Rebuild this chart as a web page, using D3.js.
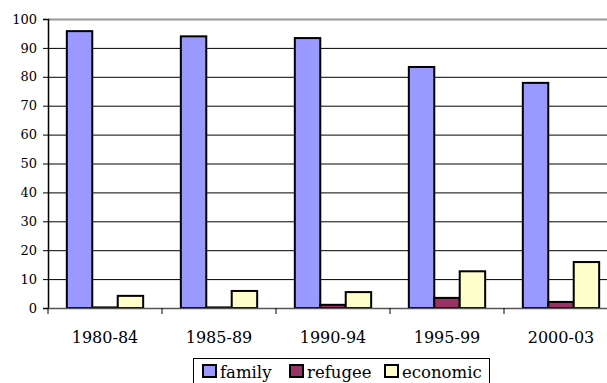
<!DOCTYPE html>
<html>
<head>
  <meta charset="utf-8">
  <script src="https://d3js.org/d3.v7.min.js"></script>
  <style>
    body { margin: 0; background: #fff; }
    svg { display: block; }
    svg text { font-family: "DejaVu Serif", serif; fill: #000; }
  </style>
</head>
<body>
  <div id="chart"></div>
  <script>
    // data
    var periods = ["1980-84", "1985-89", "1990-94", "1995-99", "2000-03"];
    var family = [95.8, 94, 93.4, 83.4, 77.9];
    var refugee = [0.2, 0.2, 1.1, 3.5, 2.1];
    var economic = [4.2, 5.9, 5.5, 12.7, 15.9];
    var seriesNames = ["family", "refugee", "economic"];
    var colors = ["#9999ff", "#993366", "#ffffcc"];
    var yTicks = [0, 10, 20, 30, 40, 50, 60, 70, 80, 90, 100];

    var width = 607, height = 383;
    var plotL = 48, plotR = 618, plotT = 19, plotB = 308;

    var svg = d3.select("#chart").append("svg")
      .attr("width", width)
      .attr("height", height);

    var x = d3.scaleBand().domain(periods).range([plotL, plotR]).paddingInner(0).paddingOuter(0);
    var inner = d3.scaleBand().domain(seriesNames).range([0, x.bandwidth()]).paddingInner(0).paddingOuter(0.74);
    var y = d3.scaleLinear().domain([0, 100]).range([plotB, plotT]);

    // gridlines
    svg.append("g").selectAll("line")
      .data(yTicks.filter(d => d > 0 && d < 100))
      .enter().append("line")
      .attr("x1", plotL).attr("x2", width)
      .attr("y1", d => y(d) + 0.5).attr("y2", d => y(d) + 0.5)
      .attr("stroke", "#000").attr("stroke-width", 1);

    // plot area top border
    svg.append("line")
      .attr("x1", plotL).attr("x2", width)
      .attr("y1", y(100) + 0.5).attr("y2", y(100) + 0.5)
      .attr("stroke", "#999").attr("stroke-width", 2);

    // bars
    var data = [family, refugee, economic];
    var groups = svg.append("g").selectAll("g")
      .data(periods)
      .enter().append("g")
      .attr("transform", d => "translate(" + x(d) + ",0)");

    groups.selectAll("rect")
      .data((p, i) => seriesNames.map((s, k) => ({ s: s, v: data[k][i], c: colors[k] })))
      .enter().append("rect")
      .attr("x", d => inner(d.s))
      .attr("width", inner.bandwidth())
      .attr("y", d => y(d.v))
      .attr("height", d => plotB - y(d.v))
      .attr("fill", d => d.c)
      .attr("stroke", "#000")
      .attr("stroke-width", 2);

    // y axis
    var yAxis = svg.append("g")
      .attr("transform", "translate(" + plotL + ",0)")
      .call(d3.axisLeft(y).tickValues(yTicks).tickSize(5).tickPadding(6));
    yAxis.attr("font-family", null);
    yAxis.select(".domain").attr("stroke", "#000").attr("stroke-width", 1.5);
    yAxis.selectAll("text").attr("font-size", 13);

    // x axis
    var xAxis = svg.append("g")
      .attr("transform", "translate(0," + plotB + ")");
    xAxis.append("line")
      .attr("x1", plotL).attr("x2", width)
      .attr("y1", 0.5).attr("y2", 0.5)
      .attr("stroke", "#555").attr("stroke-width", 1.5);
    xAxis.selectAll(".tk")
      .data(periods)
      .enter().append("line")
      .attr("class", "tk")
      .attr("x1", d => x(d)).attr("x2", d => x(d))
      .attr("y1", 0).attr("y2", 6)
      .attr("stroke", "#000");
    xAxis.selectAll(".lbl")
      .data(periods)
      .enter().append("text")
      .attr("class", "lbl")
      .attr("x", d => x(d) + x.bandwidth() / 2)
      .attr("y", 35)
      .attr("text-anchor", "middle")
      .attr("font-size", 16)
      .text(d => d);

    // legend
    var legend = svg.append("g");
    legend.append("rect")
      .attr("x", 193.5).attr("y", 358.5)
      .attr("width", 296).attr("height", 40)
      .attr("fill", "#fff").attr("stroke", "#000");
    var legX = [203, 290, 385];
    seriesNames.forEach(function(s, i) {
      legend.append("rect")
        .attr("x", legX[i]).attr("y", 365)
        .attr("width", 13).attr("height", 12)
        .attr("fill", colors[i]).attr("stroke", "#000").attr("stroke-width", 2);
      legend.append("text")
        .attr("x", legX[i] + 17).attr("y", 378)
        .attr("font-size", 16.5)
        .text(s);
    });
  </script>
</body>
</html>
